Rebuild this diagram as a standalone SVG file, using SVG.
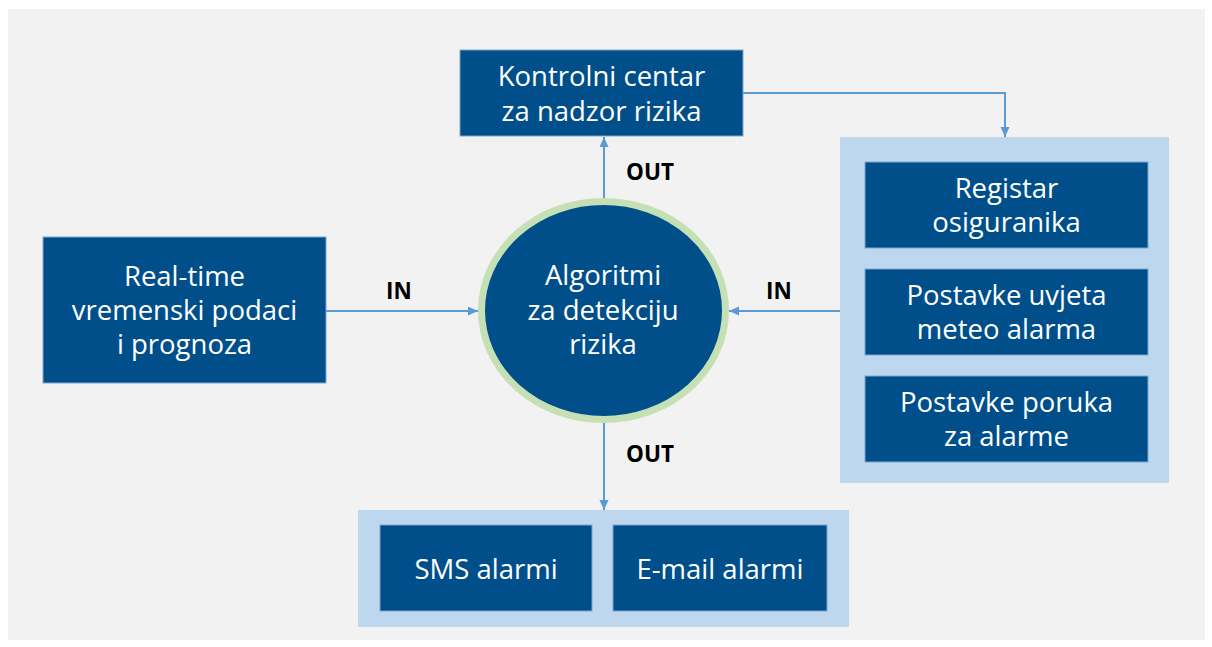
<svg xmlns="http://www.w3.org/2000/svg" width="1212" height="647" viewBox="0 0 1212 647">
<defs>
<style>
.box{fill:#004f8b;stroke:#7fa6cc;stroke-width:1}
.cont{fill:#bdd7ee}
.t{font-family:"Open Sans","DejaVu Sans",sans-serif;font-size:27.5px;fill:#ffffff;text-anchor:middle}
.lbl{font-family:"Open Sans","DejaVu Sans",sans-serif;font-size:22.5px;font-weight:bold;fill:#000000;text-anchor:start}
.conn{fill:none;stroke:#5b9bd5;stroke-width:2;marker-end:url(#ah)}
</style>
<marker id="ah" markerUnits="userSpaceOnUse" markerWidth="10" markerHeight="10" refX="10" refY="4.5" orient="auto">
<path d="M0,0 L10,4.5 L0,9 Z" fill="#5b9bd5"/>
</marker>
</defs>
<rect x="0" y="0" width="1212" height="647" fill="#ffffff"/>
<rect x="8" y="9" width="1197" height="631" fill="#f2f2f2"/>

<g id="connectors">
<path class="conn" d="M326,311 H478"/>
<path class="conn" d="M840,311 H729"/>
<path class="conn" d="M604,198 V137"/>
<path class="conn" d="M604,423 V510"/>
<path class="conn" d="M743,93 H1005 V137"/>
<text class="lbl" x="386" y="299">IN</text>
<text class="lbl" x="766" y="299">IN</text>
<text class="lbl" x="626" y="180">OUT</text>
<text class="lbl" x="626" y="462">OUT</text>
</g>

<g id="kontrolni">
<rect class="box" x="460" y="50" width="283" height="86"/>
<text class="t" x="601.5" y="86">Kontrolni centar</text>
<text class="t" x="601.5" y="121">za nadzor rizika</text>
</g>

<g id="realtime">
<rect class="box" x="43" y="237" width="283" height="146"/>
<text class="t" x="184.5" y="286">Real-time</text>
<text class="t" x="184.5" y="320">vremenski podaci</text>
<text class="t" x="184.5" y="354">i prognoza</text>
</g>

<g id="algoritmi">
<ellipse cx="603.5" cy="310.5" rx="122" ry="109" fill="#004f8b" stroke="#c5e0b4" stroke-width="7"/>
<text class="t" x="603" y="285">Algoritmi</text>
<text class="t" x="603" y="320">za detekciju</text>
<text class="t" x="603" y="354">rizika</text>
</g>

<g id="postavke-grupa">
<rect class="cont" x="840" y="137" width="329" height="346"/>
<g id="registar">
<rect class="box" x="865" y="162" width="283" height="86"/>
<text class="t" x="1006.5" y="198">Registar</text>
<text class="t" x="1006.5" y="232">osiguranika</text>
</g>
<g id="uvjeti">
<rect class="box" x="865" y="269" width="283" height="86"/>
<text class="t" x="1006.5" y="305">Postavke uvjeta</text>
<text class="t" x="1006.5" y="339">meteo alarma</text>
</g>
<g id="poruke">
<rect class="box" x="865" y="376" width="283" height="86"/>
<text class="t" x="1006.5" y="412">Postavke poruka</text>
<text class="t" x="1006.5" y="446">za alarme</text>
</g>
</g>

<g id="alarmi-grupa">
<rect class="cont" x="358" y="510" width="491" height="117"/>
<g id="sms">
<rect class="box" x="380" y="525" width="212" height="86"/>
<text class="t" x="486" y="579">SMS alarmi</text>
</g>
<g id="email">
<rect class="box" x="613" y="525" width="214" height="86"/>
<text class="t" x="720" y="579">E-mail alarmi</text>
</g>
</g>
</svg>
